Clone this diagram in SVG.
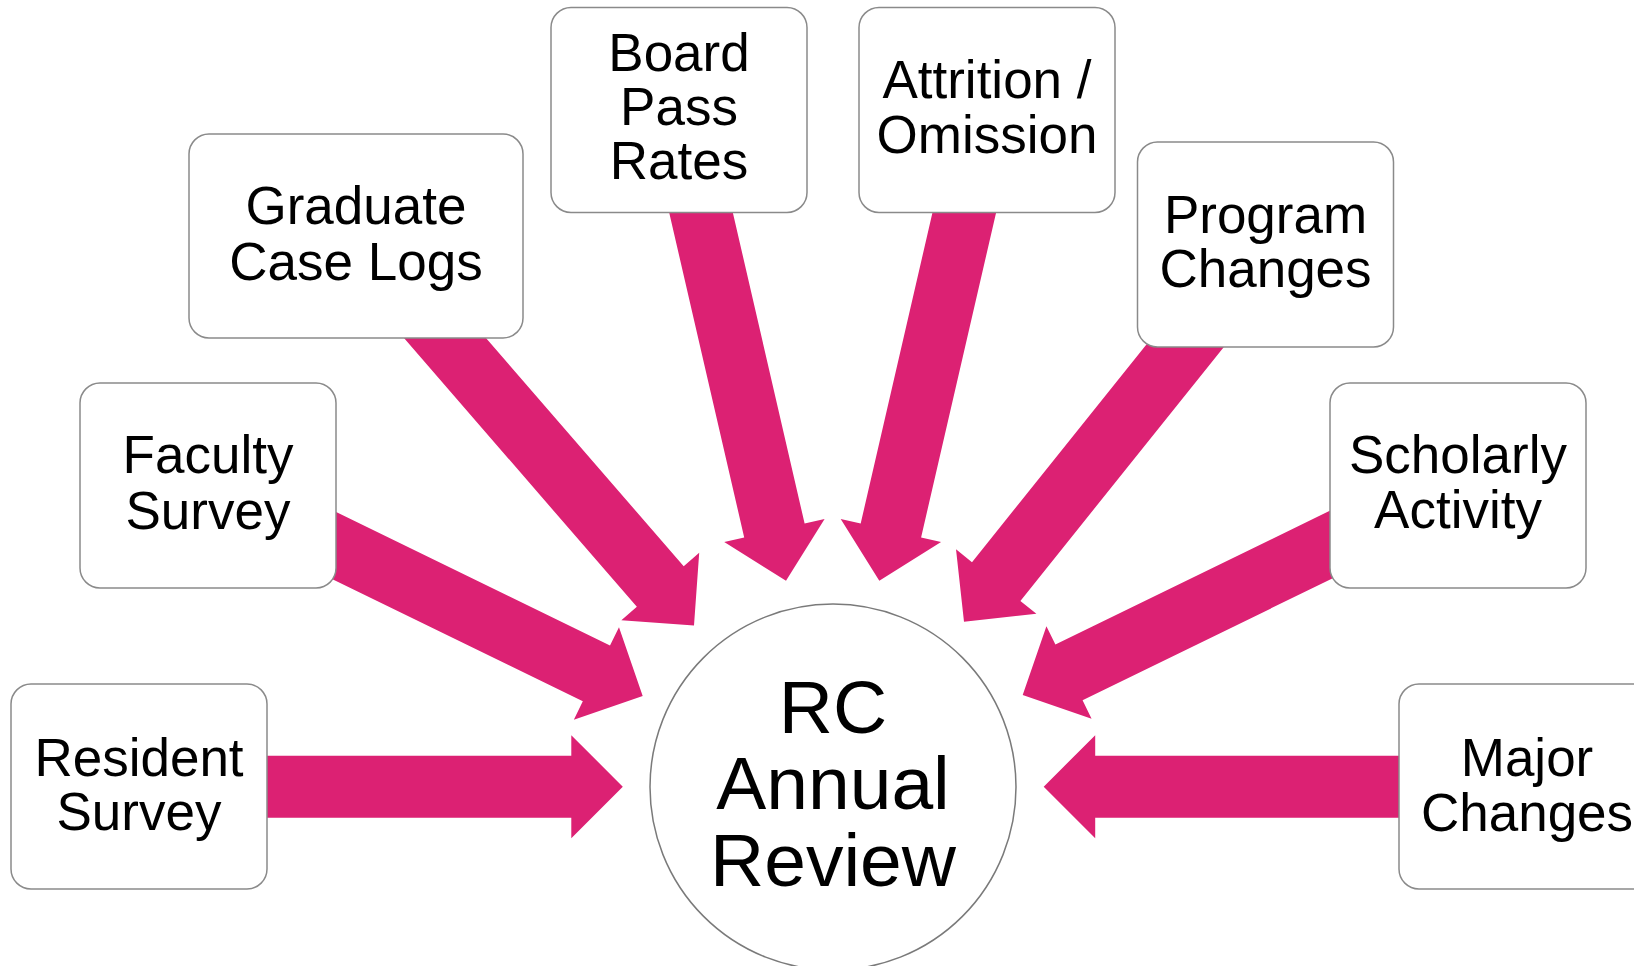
<svg xmlns="http://www.w3.org/2000/svg" width="1634" height="966" viewBox="0 0 1634 966">
<style>
.bg{fill:#ffffff}
.box{fill:#ffffff;stroke:#8a8a8a;stroke-width:1.5}
.hub{fill:#ffffff;stroke:#7a7a7a;stroke-width:1.5}
.arr{fill:#DC2173;stroke:none}
.t{font-family:"Liberation Sans",Arial,sans-serif;font-size:53px;fill:#000000;text-anchor:middle}
.tc{font-family:"Liberation Sans",Arial,sans-serif;font-size:75px;fill:#000000;text-anchor:middle}
</style>
<rect class="bg" x="0" y="0" width="1634" height="966"/>
<g id="connectors">
  <path class="arr" transform="translate(622.8,786.7) rotate(0)" d="M-400,-31 H-51.5 V-51.5 L0,0 L-51.5,51.5 V31 H-400 Z"/>
  <path class="arr" transform="translate(642.7,696) rotate(26)" d="M-390,-31 H-51.5 V-51.5 L0,0 L-51.5,51.5 V31 H-390 Z"/>
  <path class="arr" transform="translate(694,625.5) rotate(49.1)" d="M-430,-31 H-51.5 V-51.5 L0,0 L-51.5,51.5 V31 H-430 Z"/>
  <path class="arr" transform="translate(786,580.7) rotate(77)" d="M-420,-31 H-51.5 V-51.5 L0,0 L-51.5,51.5 V31 H-420 Z"/>
  <path class="arr" transform="translate(879.3,580.7) rotate(103)" d="M-420,-31 H-51.5 V-51.5 L0,0 L-51.5,51.5 V31 H-420 Z"/>
  <path class="arr" transform="translate(964,621.7) rotate(128.7)" d="M-400,-31 H-51.5 V-51.5 L0,0 L-51.5,51.5 V31 H-400 Z"/>
  <path class="arr" transform="translate(1022.7,695) rotate(154)" d="M-390,-31 H-51.5 V-51.5 L0,0 L-51.5,51.5 V31 H-390 Z"/>
  <path class="arr" transform="translate(1043.7,786.7) rotate(180)" d="M-400,-31 H-51.5 V-51.5 L0,0 L-51.5,51.5 V31 H-400 Z"/>
</g>
<g id="node-resident">
  <rect class="box" x="11" y="684" width="256" height="205" rx="20"/>
  <text class="t" x="139" y="776">Resident</text>
  <text class="t" x="139" y="830">Survey</text>
</g>
<g id="node-faculty">
  <rect class="box" x="80" y="383" width="256" height="205" rx="20"/>
  <text class="t" x="208" y="473">Faculty</text>
  <text class="t" x="208" y="529">Survey</text>
</g>
<g id="node-graduate">
  <rect class="box" x="189" y="134" width="334" height="204" rx="20"/>
  <text class="t" x="356" y="224">Graduate</text>
  <text class="t" x="356" y="280">Case Logs</text>
</g>
<g id="node-board">
  <rect class="box" x="551" y="7.5" width="256" height="205" rx="20"/>
  <text class="t" x="679" y="71">Board</text>
  <text class="t" x="679" y="125">Pass</text>
  <text class="t" x="679" y="179">Rates</text>
</g>
<g id="node-attrition">
  <rect class="box" x="859" y="7.5" width="256" height="205" rx="20"/>
  <text class="t" x="987" y="98">Attrition /</text>
  <text class="t" x="987" y="153">Omission</text>
</g>
<g id="node-program">
  <rect class="box" x="1137.5" y="142" width="256" height="205" rx="20"/>
  <text class="t" x="1265.5" y="233">Program</text>
  <text class="t" x="1265.5" y="287">Changes</text>
</g>
<g id="node-scholarly">
  <rect class="box" x="1330" y="383" width="256" height="205" rx="20"/>
  <text class="t" x="1458" y="473">Scholarly</text>
  <text class="t" x="1458" y="528">Activity</text>
</g>
<g id="node-major">
  <rect class="box" x="1399" y="684" width="256" height="205" rx="20"/>
  <text class="t" x="1527" y="776">Major</text>
  <text class="t" x="1527" y="831">Changes</text>
</g>
<g id="node-hub">
  <circle class="hub" cx="833" cy="787" r="183"/>
  <text class="tc" x="833" y="733">RC</text>
  <text class="tc" x="833" y="809">Annual</text>
  <text class="tc" x="833" y="886">Review</text>
</g>
</svg>
